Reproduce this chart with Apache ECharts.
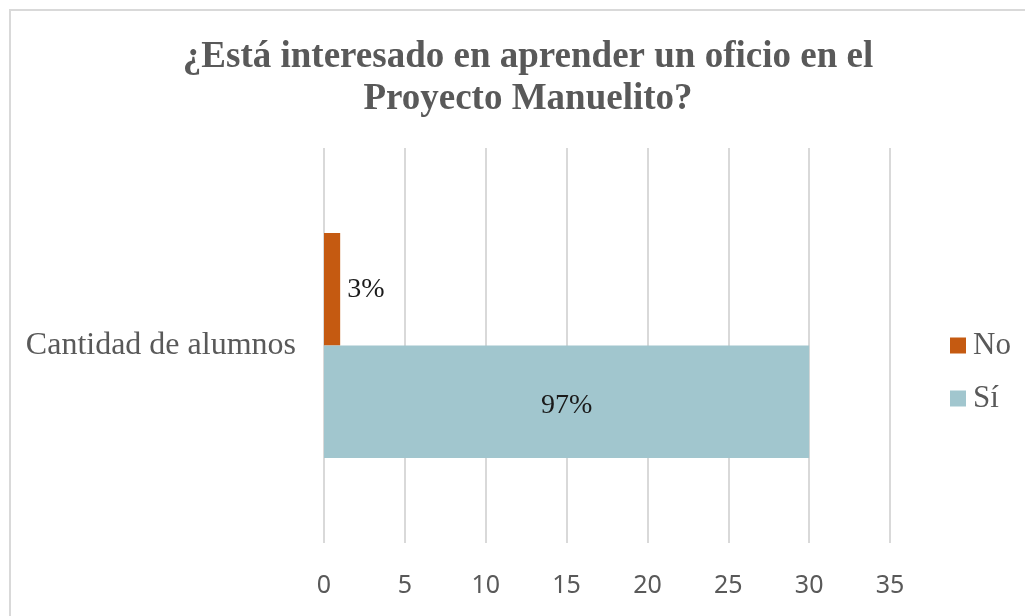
<!DOCTYPE html>
<html>
<head>
<meta charset="utf-8">
<script src="https://cdn.jsdelivr.net/npm/echarts@6/dist/echarts.min.js"></script>
<style>
  html, body { margin: 0; padding: 0; background: #fff; }
  #chart { width: 1025px; height: 616px; }
</style>
</head>
<body>
<div id="chart"></div>
<script>
// datos
var categories = ['Cantidad de alumnos']
var seriesNames = ['No', 'Sí']
var noValues = [1]
var siValues = [30]
var noLabels = ['3%']
var siLabels = ['97%']
var xTicks = [0, 5, 10, 15, 20, 25, 30, 35]

var serif = '"Liberation Serif", "Times New Roman", serif'
var gray = '#595959'

var chart = echarts.init(document.getElementById('chart'))

chart.setOption({
  animation: false,
  title: {
    text: '¿Está interesado en aprender un oficio en el\nProyecto Manuelito?',
    left: 523,
    textAlign: 'center',
    top: 31,
    textStyle: {
      fontFamily: serif,
      fontWeight: 'bold',
      fontSize: 37,
      lineHeight: 42,
      color: gray
    }
  },
  graphic: [{
    type: 'rect',
    shape: { x: 10, y: 10, width: 1030, height: 620 },
    style: { fill: null, stroke: '#d9d9d9', lineWidth: 2 },
    silent: true
  }],
  legend: {
    data: seriesNames,
    orient: 'vertical',
    left: 950,
    top: 330,
    padding: 0,
    itemWidth: 16,
    itemHeight: 16,
    itemGap: 22,
    icon: 'rect',
    textStyle: {
      fontFamily: serif,
      fontSize: 31,
      color: gray,
      padding: [0, 0, 0, 2]
    }
  },
  grid: {
    left: 324,
    right: 135,
    top: 148,
    bottom: 73,
    containLabel: false
  },
  xAxis: {
    type: 'value',
    min: xTicks[0],
    max: xTicks[xTicks.length - 1],
    interval: 5,
    axisLine: { show: false },
    axisTick: { show: false },
    splitLine: { lineStyle: { color: '#d9d9d9', width: 2 } },
    axisLabel: {
      margin: 30,
      fontFamily: '"Noto Sans", sans-serif',
      fontSize: 25,
      color: gray
    }
  },
  yAxis: {
    type: 'category',
    data: categories,
    axisLine: { show: false },
    axisTick: { show: false },
    axisLabel: {
      margin: 28,
      fontFamily: serif,
      fontSize: 32,
      color: gray
    }
  },
  series: [
    {
      name: seriesNames[0],
      type: 'bar',
      data: noValues,
      barGap: '0%',
      barCategoryGap: '43%',
      itemStyle: { color: '#c55a11' },
      label: {
        show: true,
        position: 'right',
        distance: 7,
        formatter: function (p) { return noLabels[p.dataIndex] },
        fontFamily: serif,
        fontSize: 28,
        color: '#1a1a1a'
      }
    },
    {
      name: seriesNames[1],
      type: 'bar',
      data: siValues,
      barGap: '0%',
      barCategoryGap: '43%',
      itemStyle: { color: '#a1c6ce' },
      label: {
        show: true,
        position: 'inside',
        offset: [0, 4],
        formatter: function (p) { return siLabels[p.dataIndex] },
        fontFamily: serif,
        fontSize: 28,
        color: '#1a1a1a'
      }
    }
  ]
})
</script>
</body>
</html>
